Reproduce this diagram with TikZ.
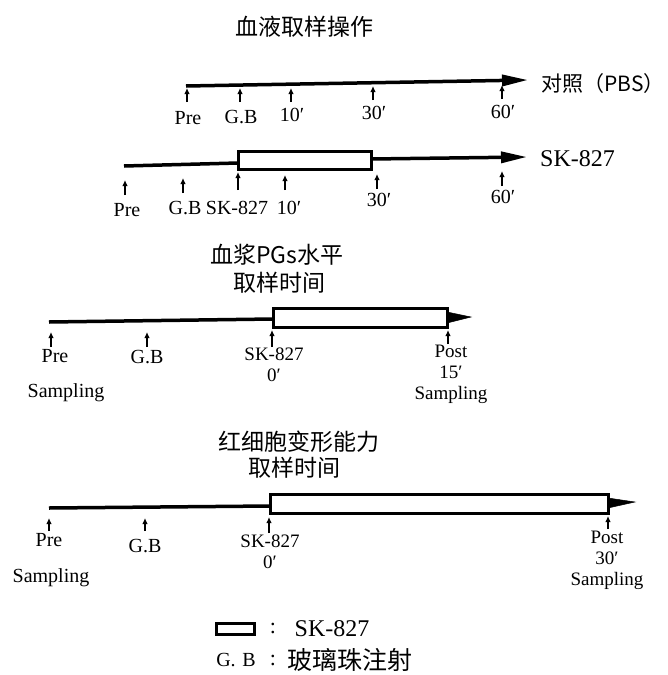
\documentclass[tikz,border=0pt]{standalone}
\usepackage{fontspec}
\setmainfont{Liberation Serif}
\newfontfamily\cjk{Noto Sans CJK SC}
\usetikzlibrary{arrows.meta}
\begin{document}
\begin{tikzpicture}[x=1pt,y=-1pt,
  lbl/.style={inner sep=0pt, font=\fontsize{20}{22}\selectfont},
  stack/.style={inner sep=0pt, align=center, font=\fontsize{19}{21}\selectfont},
  ttl/.style={inner sep=0pt, font=\cjk\fontsize{23}{26}\selectfont},
  tline/.style={line width=3.5pt},
  headline/.style={line width=3.5pt, -{Triangle[length=26pt,width=11pt]}},
  tickarr/.style={line width=1.6pt, -{Latex[length=6pt,width=5.5pt]}},
  barbox/.style={line width=3pt, fill=white},
  spike/.style={fill=black, draw=black, line width=0.5pt}
]
\useasboundingbox (0,0) rectangle (668,675);

% ---------- Section 1 ----------
\node[ttl] (t1) at (304,27) {血液取样操作};

% Row 1 (PBS)
\coordinate (r1s) at (186,86);
\coordinate (r1e) at (528,80);
\draw[headline] (r1s) -- (r1e);
\node[inner sep=0pt, font=\cjk\fontsize{21}{24}\selectfont, anchor=west] (r1lab) at (541,84) {对照（PBS）};

\foreach \nm/\x/\yb/\yt/\ly/\txt in {pre/187/102/88/118/Pre, gb/240/102/88/117/G.B, ten/291/102/88/115/10′, thirty/373/100/86/113/30′, sixty/502/99/85/112/60′}{
  \coordinate (r1\nm b) at (\x,\yb);
  \coordinate (r1\nm t) at (\x,\yt);
  \draw[tickarr] (r1\nm b) -- (r1\nm t);
  \node[lbl] (r1\nm lab) at (\x+1,\ly) {\txt};
}

% Row 2 (SK-827)
\coordinate (r2s) at (124,166);
\coordinate (r2a) at (238,163);
\coordinate (r2b) at (371,159);
\coordinate (r2e) at (527,157);
\draw[tline] (r2s) -- (r2a);
\draw[headline] (r2b) -- (r2e);
\node[barbox, draw, minimum width=133pt, minimum height=18pt, inner sep=0pt] (r2box) at (304.5,160) {};
\node[inner sep=0pt, font=\fontsize{24}{26}\selectfont, anchor=west] (r2lab) at (540,159) {SK-827};

\foreach \nm/\x/\yb/\yt/\ly/\lx/\txt in {pre/125/195/180/210/127/Pre, gb/183/193/178/208/185/G.B, sk/238/190/172/208/237/SK-827, ten/285/190/175/208/289/10′, thirty/377/189/174/200/379/30′, sixty/502/186/171/197/503/60′}{
  \coordinate (r2\nm b) at (\x,\yb);
  \coordinate (r2\nm t) at (\x,\yt);
  \draw[tickarr] (r2\nm b) -- (r2\nm t);
  \node[lbl] (r2\nm lab) at (\lx,\ly) {\txt};
}

% ---------- Section 2 ----------
\node[ttl] (t2a) at (277,255) {血浆PGs水平};
\node[ttl] (t2b) at (279,283) {取样时间};

\coordinate (r3s) at (49,322);
\coordinate (r3a) at (273,319);
\draw[tline] (r3s) -- (r3a);
\node[barbox, draw, minimum width=174pt, minimum height=19pt, inner sep=0pt] (r3box) at (360,317.5) {};
\coordinate (r3sp1) at (447,312);
\coordinate (r3sp2) at (471,317);
\coordinate (r3sp3) at (447,323);
\fill[spike] (r3sp1) -- (r3sp2) -- (r3sp3) -- cycle;

\foreach \nm/\x/\yb/\yt in {pre/51/347/332, gb/147/347/332, sk/272/347/330, post/448/344/330}{
  \coordinate (r3\nm b) at (\x,\yb);
  \coordinate (r3\nm t) at (\x,\yt);
  \draw[tickarr] (r3\nm b) -- (r3\nm t);
}
\node[lbl] (r3prelab) at (55,356) {Pre};
\node[lbl] (r3gblab) at (147,357) {G.B};
\node[stack, anchor=north] (r3sklab) at (274,348) {SK-827\\0′};
\node[stack, anchor=north] (r3post) at (451,345) {Post\\15′\\Sampling};
\node[lbl] (r3sampl) at (66,393) {Sampling};

% ---------- Section 3 ----------
\node[ttl] (t3a) at (299,442) {红细胞变形能力};
\node[ttl] (t3b) at (294,468) {取样时间};

\coordinate (r4s) at (49,508);
\coordinate (r4a) at (270,506);
\draw[tline] (r4s) -- (r4a);
\node[barbox, draw, minimum width=338pt, minimum height=19pt, inner sep=0pt] (r4box) at (439,503.5) {};
\coordinate (r4sp1) at (608,498);
\coordinate (r4sp2) at (635,502);
\coordinate (r4sp3) at (608,508);
\fill[spike] (r4sp1) -- (r4sp2) -- (r4sp3) -- cycle;

\foreach \nm/\x/\yb/\yt in {pre/49/531/518, gb/145/531/518, sk/269/533/517, post/608/529/516}{
  \coordinate (r4\nm b) at (\x,\yb);
  \coordinate (r4\nm t) at (\x,\yt);
  \draw[tickarr] (r4\nm b) -- (r4\nm t);
}
\node[lbl] (r4prelab) at (49,540) {Pre};
\node[lbl] (r4gblab) at (145,546) {G.B};
\node[stack, anchor=north] (r4sklab) at (270,535) {SK-827\\0′};
\node[stack, anchor=north] (r4post) at (607,531) {Post\\30′\\Sampling};
\node[lbl] (r4sampl) at (51,578) {Sampling};

% ---------- Legend ----------
\node[barbox, draw, minimum width=38pt, minimum height=11pt, inner sep=0pt] (legbox) at (235,628.5) {};
\node[inner sep=0pt, font=\fontsize{22}{24}\selectfont] (legc1) at (273,628) {:};
\node[inner sep=0pt, font=\fontsize{24}{26}\selectfont] (legsk) at (332,629) {SK-827};
\node[inner sep=0pt, font=\fontsize{20}{22}\selectfont] (leggb) at (236,660) {G.\,\,B};
\node[inner sep=0pt, font=\fontsize{22}{24}\selectfont] (legc2) at (273,660) {:};
\node[inner sep=0pt, font=\cjk\fontsize{25}{28}\selectfont] (legtxt) at (350,660) {玻璃珠注射};
\end{tikzpicture}
\end{document}
